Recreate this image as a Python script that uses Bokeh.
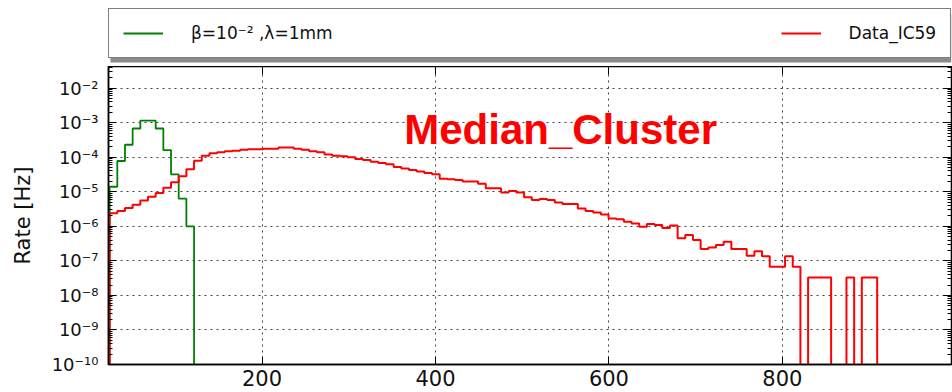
import numpy as np
from bokeh.plotting import figure
from bokeh.layouts import column
from bokeh.models import (Range1d, FixedTicker, CustomJSTickFormatter, Legend,
                          LegendItem, Label, BoxAnnotation, LinearAxis, LogAxis)
from bokeh.embed import file_html
from bokeh.resources import INLINE

# ---- data ----
first_edge = 24.3          # left edge of first histogram bin
bin_width = 8.85           # histogram bin width

red_rate = [
    2.4e-6, 2.8e-6, 3.4e-6, 4.2e-6, 5.6e-6, 7.2e-6, 9.3e-6, 1.3e-5, 1.9e-5, 2.8e-5,
    4.5e-5, 7.9e-5, 1.1e-4, 1.3e-4, 1.4e-4, 1.5e-4, 1.55e-4, 1.65e-4, 1.7e-4, 1.7e-4,
    1.75e-4, 1.75e-4, 1.9e-4, 1.9e-4, 1.75e-4, 1.65e-4, 1.5e-4, 1.4e-4, 1.2e-4, 1.1e-4,
    1.07e-4, 1.0e-4, 8.9e-5, 8.3e-5, 7.4e-5, 6.8e-5, 6.3e-5, 5.2e-5, 4.7e-5, 4.3e-5,
    3.9e-5, 3.5e-5, 3.2e-5, 2.4e-5, 2.3e-5, 2.2e-5, 2.0e-5, 2.0e-5, 1.7e-5, 1.26e-5,
    1.26e-5, 9.5e-6, 1.05e-5, 9.5e-6, 6.9e-6, 5.8e-6, 6.2e-6, 5.8e-6, 4.9e-6, 4.4e-6,
    4.4e-6, 3.3e-6, 2.8e-6, 2.5e-6, 2.2e-6, 1.7e-6, 1.6e-6, 1.35e-6, 1.2e-6, 9.8e-7,
    1.17e-6, 1.1e-6, 8.9e-7, 1.05e-6, 4.5e-7, 5.6e-7, 4.0e-7, 2.2e-7, 2.45e-7, 2.9e-7,
    3.6e-7, 2.2e-7, 2.2e-7, 1.4e-7, 1.9e-7, 1.35e-7, 6.8e-8, 6.8e-8, 1.35e-7, 6.8e-8,
    0, 3.3e-8, 3.3e-8, 3.3e-8, 0, 0, 3.3e-8, 0, 3.3e-8, 3.3e-8,
]
green_rate = [1.4e-5, 7.8e-5, 2.3e-4, 6.8e-4, 1.15e-3, 1.15e-3, 6.8e-4, 1.6e-4,
              3.2e-5, 6.3e-6, 1.0e-6]

x_ticks = [200, 400, 600, 800]
y_tick_exp = [-10, -9, -8, -7, -6, -5, -4, -3, -2]
y_tick_labels = ["10⁻¹⁰", "10⁻⁹", "10⁻⁸", "10⁻⁷", "10⁻⁶", "10⁻⁵", "10⁻⁴", "10⁻³", "10⁻²"]
legend_labels = ["β=10⁻² ,λ=1mm", "Data_IC59"]
annotation_text = "Median_Cluster"
y_label = "Rate [Hz]"

GREEN = "#008000"
RED = "#ff0000"
FLOOR = 1e-14  # below the visible range: empty bins drop to the axis


def outline(rates):
    rates = np.asarray(rates, dtype=float)
    edges = first_edge + bin_width * np.arange(len(rates) + 1)
    vals = np.where(rates > 0, rates, FLOOR)
    xs = np.repeat(edges, 2)
    ys = np.concatenate([[FLOOR], np.repeat(vals, 2), [FLOOR]])
    return xs, ys


BORDER_L, BORDER_R = 108, 1
FRAME_W = 952 - BORDER_L - BORDER_R

# ---------------- legend strip (above the axes) ----------------
top = figure(width=952, height=66, x_range=Range1d(0, FRAME_W), y_range=Range1d(66, 0),
             output_backend="svg", toolbar_location=None,
             min_border_left=BORDER_L, min_border_right=BORDER_R,
             min_border_top=0, min_border_bottom=0)
top.axis.visible = False
top.grid.visible = False
top.outline_line_color = None
top.background_fill_color = "white"
top.border_fill_color = "white"

# legend-only renderers (a single NaN point: nothing drawn in the strip)
lg_green = top.line([np.nan], [np.nan], line_color=GREEN, line_width=1.8)
lg_red = top.line([np.nan], [np.nan], line_color=RED, line_width=2)

# drop shadow of the legend box
top.add_layout(BoxAnnotation(left=2, right=FRAME_W, top=14, bottom=62,
                             fill_color="#8a8a8a", fill_alpha=1.0,
                             line_color=None))

legend = Legend(
    items=[LegendItem(label=legend_labels[0], renderers=[lg_green]),
           LegendItem(label=legend_labels[1], renderers=[lg_red])],
    location=(0, 8), orientation="horizontal", margin=0,
    padding=14, spacing=448, glyph_width=40, glyph_height=20,
    label_standoff=28, label_height=20,
    label_text_font="DejaVu Sans", label_text_font_size="17px",
    label_text_color="#111111",
    border_line_color="black", border_line_width=1.3,
    background_fill_color="white", background_fill_alpha=1.0)
top.add_layout(legend, "center")

# ---------------- main axes ----------------
p = figure(width=952, height=326, y_axis_type="log",
           x_range=Range1d(23, 995), y_range=Range1d(1e-10, 0.0424),
           output_backend="svg", toolbar_location=None,
           min_border_left=BORDER_L, min_border_right=BORDER_R,
           min_border_top=0, min_border_bottom=28)
p.background_fill_color = "white"
p.border_fill_color = "white"
p.outline_line_color = "black"
p.outline_line_width = 1.5

gx, gy = outline(green_rate)
rx, ry = outline(red_rate)
p.line(gx, gy, line_color=GREEN, line_width=1.8)
p.line(rx, ry, line_color=RED, line_width=2)

x_ticker = FixedTicker(ticks=x_ticks)
y_ticker = FixedTicker(
    ticks=[10.0 ** e for e in y_tick_exp],
    minor_ticks=[m * 10.0 ** e for e in range(-11, -1) for m in range(2, 10)])
blank = CustomJSTickFormatter(code="return '';")

bottom_ax = p.below[0]
left_ax = p.left[0]
bottom_ax.ticker = x_ticker
left_ax.ticker = y_ticker
left_ax.formatter = CustomJSTickFormatter(
    args=dict(exps=y_tick_exp, labels=y_tick_labels),
    code="const e = Math.round(Math.log10(tick)); const i = exps.indexOf(e);"
         " return i >= 0 ? labels[i] : '';")

# mirrored tick marks on the top and right edges of the frame
top_ax = LinearAxis(ticker=x_ticker, formatter=blank, axis_line_color=None,
                    major_label_standoff=0, major_label_text_font_size="0px")
right_ax = LogAxis(ticker=y_ticker, formatter=blank, axis_line_color=None,
                   major_label_standoff=0, major_label_text_font_size="0px")
p.add_layout(top_ax, "above")
p.add_layout(right_ax, "right")

for ax in (bottom_ax, left_ax, top_ax, right_ax):
    ax.major_tick_in = 8
    ax.major_tick_out = 0
    ax.minor_tick_in = 4
    ax.minor_tick_out = 0
    ax.major_tick_line_color = "black"
    ax.minor_tick_line_color = "black"
    ax.major_label_text_color = "#111111"
    ax.major_label_text_font = "DejaVu Sans"
bottom_ax.minor_tick_line_color = None
top_ax.minor_tick_line_color = None

bottom_ax.axis_line_color = "black"
bottom_ax.axis_line_width = 1.5
left_ax.axis_line_color = "black"
left_ax.axis_line_width = 1.5
bottom_ax.major_label_text_font_size = "21px"
bottom_ax.major_label_standoff = 5
left_ax.major_label_text_font_size = "18px"
left_ax.major_label_standoff = 10
left_ax.axis_label = y_label
left_ax.axis_label_text_font = "DejaVu Sans"
left_ax.axis_label_text_font_style = "normal"
left_ax.axis_label_text_font_size = "21px"
left_ax.axis_label_text_color = "#111111"
left_ax.axis_label_standoff = 14

for g in (p.xgrid[0], p.ygrid[0]):
    g.grid_line_color = "black"
    g.grid_line_alpha = 0.75
    g.grid_line_dash = "2 4"
    g.grid_line_width = 1

p.add_layout(Label(x=364, y=6.3e-4, text=annotation_text, text_color=RED,
                   text_font="Liberation Sans", text_font_style="bold",
                   text_font_size="42px", text_baseline="alphabetic"))

layout = column(top, p, spacing=0)
open("out.html", "w").write(file_html(layout, INLINE))
